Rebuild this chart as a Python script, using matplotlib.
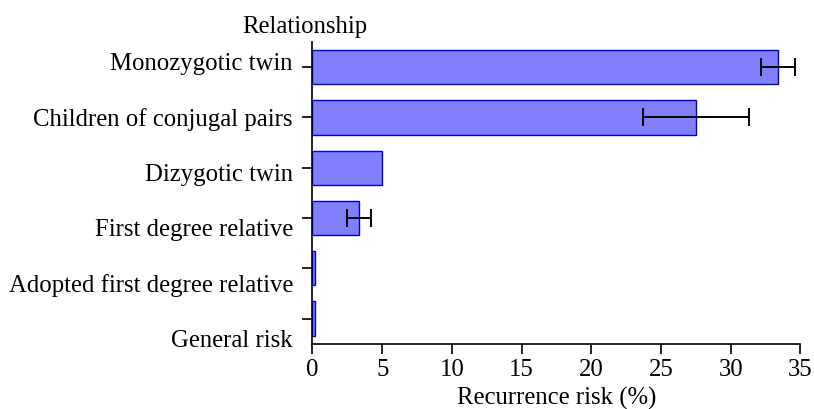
import numpy as np
import matplotlib
matplotlib.use("Agg")
import matplotlib.pyplot as plt
import matplotlib.transforms as mtransforms

# ----------------------------- DATA -----------------------------
relationships = [
    "Monozygotic twin",
    "Children of conjugal pairs",
    "Dizygotic twin",
    "First degree relative",
    "Adopted first degree relative",
    "General risk",
]
risk = [33.4, 27.5, 5.0, 3.35, 0.2, 0.2]
risk_err = [1.2, 3.8, 0.0, 0.88, 0.0, 0.0]
has_err = [True, True, False, True, False, False]

# ----------------------------- PLOT -----------------------------
plt.rcParams["font.family"] = ["Liberation Serif", "DejaVu Serif"]
FS = 17.8

fig = plt.figure(figsize=(8.14, 4.10), dpi=100)
ax = fig.add_axes([0.3839, 0.1593, 0.5995, 0.7358])

y = np.arange(len(relationships))[::-1]
ax.barh(y, risk, height=0.68, color="#8080ff", edgecolor="#0000cc", linewidth=1.0, zorder=2)

err_idx = [i for i, e in enumerate(has_err) if e]
ax.errorbar([risk[i] for i in err_idx], [y[i] for i in err_idx],
            xerr=[risk_err[i] for i in err_idx], fmt="none", ecolor="black",
            elinewidth=1.4, capsize=6.8, capthick=1.4, zorder=3)

ax.set_xlim(0, 35)
ax.set_ylim(-0.5, len(relationships) - 0.5)
ax.set_xticks(np.arange(0, 36, 5))
ax.set_yticks(y)
ax.set_yticklabels([])

# category labels are spread slightly wider than the tick spacing
mid = (len(relationships) - 1) / 2
label_y = mid - 0.296 + (y - mid) * 1.101
trans = mtransforms.blended_transform_factory(ax.transAxes, ax.transData)
for name, ly in zip(relationships, label_y):
    ax.text(-0.040, ly, name, transform=trans, ha="right", va="baseline",
            fontsize=FS, clip_on=False)

for side in ["top", "right"]:
    ax.spines[side].set_visible(False)
for side in ["left", "bottom"]:
    ax.spines[side].set_linewidth(1.2)

ax.tick_params(axis="y", length=7, width=1.2)
ax.tick_params(axis="x", length=7, width=1.2, pad=3, labelsize=FS)

ax.set_xlabel("Recurrence risk (%)", fontsize=FS, labelpad=4.5)
ax.text(-0.015, 1.032, "Relationship", transform=ax.transAxes,
        ha="center", va="baseline", fontsize=FS)

fig.savefig("out.png", dpi=100)
